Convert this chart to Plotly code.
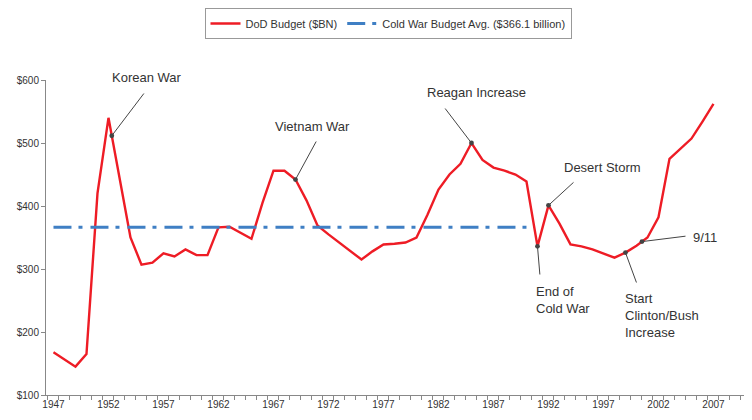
import plotly.graph_objects as go

years = list(range(1947, 2008))
budget = [168, 157, 145, 165, 420, 540, 445, 350, 307, 310,
          325, 320, 331, 322, 322, 366, 367, 358, 348, 405,
          456, 456, 442, 409, 369, 355, 342, 328, 315, 328,
          339, 340, 342, 350, 386, 426, 450, 467, 500, 473,
          461, 456, 450, 439, 336, 401, 372, 339, 336, 331,
          325, 318, 326, 337, 350, 382, 475, 491, 507, 534,
          562]
cold_war_years = [1947, 1990]
cold_war_avg = 366.1
xtick_years = list(range(1947, 2008, 5))
ytick_vals = [100, 200, 300, 400, 500, 600]

FONT = "Arial, Liberation Sans, sans-serif"

def val(yr):
    """Budget value at (possibly fractional) year, along the plotted line."""
    i = int(yr) - years[0]
    f = yr - int(yr)
    if f == 0:
        return budget[i]
    return budget[i] + f * (budget[i + 1] - budget[i])

fig = go.Figure()
fig.add_trace(go.Scatter(x=years, y=budget, mode="lines", name="DoD Budget ($BN)",
                         line=dict(color="#ee1c25", width=2.4)))
fig.add_trace(go.Scatter(x=cold_war_years, y=[cold_war_avg] * len(cold_war_years), mode="lines",
                         name="Cold War Budget Avg. ($366.1 billion)",
                         line=dict(color="#3f7fc4", width=3, dash="18px,7px,4px,8px")))

# The page body has an 8px margin, so screen coords = figure coords + 8.
# Plot area on screen: x from 46 (width 714), y from 80 to 395.
PLOT_L, PLOT_W, PLOT_T, PLOT_B = 46, 714, 80, 395
X0, PX_PER_YR = 1946.32, 11.0
X1 = X0 + PLOT_W / PX_PER_YR

def px_x(p):
    return X0 + (p - PLOT_L) / PX_PER_YR

def px_y(p):
    return 600 - (p - PLOT_T) * 500 / (PLOT_B - PLOT_T)

def paper_x(p):
    return (p - PLOT_L) / PLOT_W

def paper_y(p):
    return (PLOT_B - p) / (PLOT_B - PLOT_T)

notes = [
    # text, point year, tail px, text px (x, y), xanchor, align
    ("Korean War", 1952.3, (145, 92), (147, 77), "center", "center"),
    ("Vietnam War", 1969, (317, 140), (312, 126), "center", "center"),
    ("Reagan Increase", 1985, (444, 107), (476, 92), "center", "center"),
    ("Desert Storm", 1992, (575, 181), (602, 167), "center", "center"),
    ("End of<br>Cold War", 1991, (540, 276), (534, 300), "left", "left"),
    ("Start<br>Clinton/Bush<br>Increase", 1999, (637, 284), (623, 315), "left", "left"),
    ("9/11", 2000.5, (687, 236), (691, 237), "left", "left"),
]

annotations = []
for text, yr, tail, tpos, xa, al in notes:
    annotations.append(dict(x=yr, y=val(yr), xref="x", yref="y", text="",
                            showarrow=True, axref="x", ayref="y",
                            ax=px_x(tail[0]), ay=px_y(tail[1]),
                            arrowhead=6, arrowsize=1.2, arrowwidth=1,
                            arrowcolor="#444444", standoff=0))
    annotations.append(dict(x=paper_x(tpos[0]), y=paper_y(tpos[1]), xref="paper", yref="paper",
                            text=text, showarrow=False, xanchor=xa, yanchor="middle",
                            align=al, font=dict(family=FONT, size=13, color="#333333")))

fig.update_layout(
    width=752, height=420,
    margin=dict(l=PLOT_L - 8, r=0, t=PLOT_T - 8, b=420 - (PLOT_B - 8)),
    paper_bgcolor="white", plot_bgcolor="white",
    font=dict(family=FONT, size=10, color="#333333"),
    showlegend=True,
    legend=dict(orientation="h", x=paper_x(388), xanchor="center", y=paper_y(8), yanchor="top",
                bordercolor="#999999", borderwidth=1, bgcolor="white",
                font=dict(family=FONT, size=11, color="#333333"),
                itemwidth=30, tracegroupgap=0),
    annotations=annotations,
)
fig.update_xaxes(range=[X0, X1], tickmode="array", tickvals=xtick_years,
                 ticktext=[str(y) for y in xtick_years], ticks="",
                 showline=True, linecolor="#888888", linewidth=1,
                 showgrid=False, zeroline=False,
                 tickfont=dict(family=FONT, size=10, color="#333333"),
                 minor=dict(tickmode="array", tickvals=[y - 0.5 for y in range(1947, 2012)],
                            ticks="outside", ticklen=4, tickcolor="#888888", showgrid=False))
fig.update_yaxes(range=[100, 600], tickmode="array", tickvals=ytick_vals,
                 ticktext=["$" + str(v) for v in ytick_vals], ticks="outside", ticklen=4,
                 tickcolor="#888888", showline=True, linecolor="#888888", linewidth=1,
                 showgrid=False, zeroline=False,
                 tickfont=dict(family=FONT, size=10, color="#333333"))

fig.write_html("out.html")
